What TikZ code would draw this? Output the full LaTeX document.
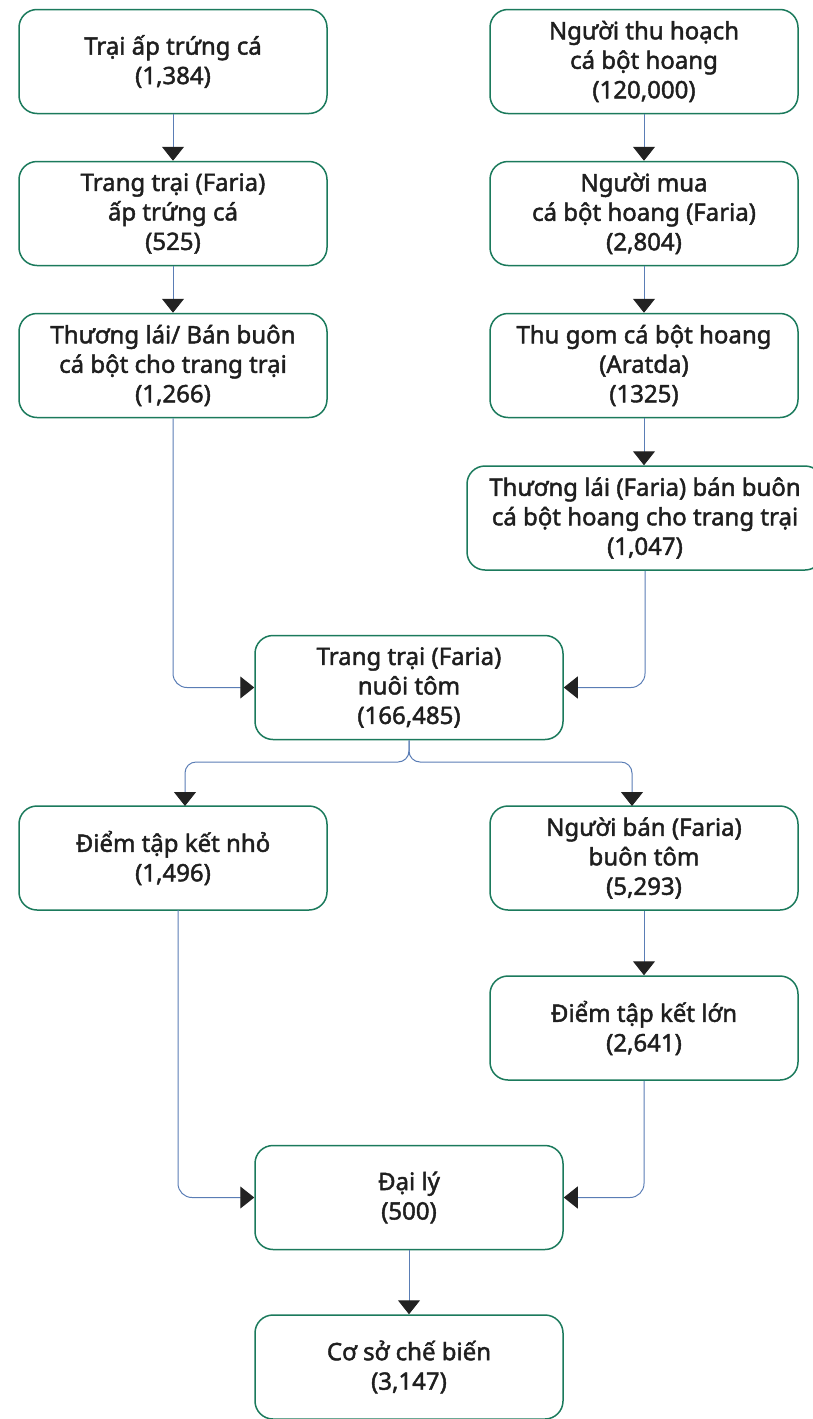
\documentclass[tikz,border=0pt]{standalone}
\usepackage{fontspec}
\setmainfont{Noto Sans}[FakeBold=1.8]
\usetikzlibrary{arrows.meta}
\definecolor{boxgreen}{HTML}{1B7A5C}
\definecolor{lineblue}{HTML}{5A7DB5}
\definecolor{tip}{HTML}{222222}
\tikzset{
  box/.style={draw=boxgreen, line width=1.5pt, rounded corners=18pt, fill=white,
    minimum width=308pt, minimum height=104pt, align=center, inner sep=0pt,
    font=\fontsize{24}{29.5}\selectfont, text=black!88},
  conn/.style={draw=lineblue, line width=1pt, rounded corners=14pt,
    -{Triangle[width=22pt,length=14pt,color=tip]}},
}
\begin{document}
\begin{tikzpicture}[x=1pt,y=-1pt]
\useasboundingbox (0,0) rectangle (813,1419);
% left column
\node[box] (l1) at (173,61.5) {Trại ấp trứng cá\\(1,384)};
\node[box] (l2) at (173,213.5) {Trang trại (Faria)\\ấp trứng cá\\(525)};
\node[box] (l3) at (173,365.5) {Thương lái/ Bán buôn\\cá bột cho trang trại\\(1,266)};
% right column
\node[box] (r1) at (644,61.5) {Người thu hoạch\\cá bột hoang\\(120,000)};
\node[box] (r2) at (644,213.5) {Người mua\\cá bột hoang (Faria)\\(2,804)};
\node[box] (r3) at (644,365.5) {Thu gom cá bột hoang\\(Aratda)\\(1325)};
\node[box, minimum width=356pt] (r4) at (645,518) {Thương lái (Faria) bán buôn\\cá bột hoang cho trang trại\\(1,047)};
% center
\node[box] (c) at (409,687.5) {Trang trại (Faria)\\nuôi tôm\\(166,485)};
\node[box] (sm) at (173,858) {Điểm tập kết nhỏ\\(1,496)};
\node[box] (ws) at (644,858) {Người bán (Faria)\\buôn tôm\\(5,293)};
\node[box] (big) at (644,1028) {Điểm tập kết lớn\\(2,641)};
\node[box] (ag) at (409,1197.5) {Đại lý\\(500)};
\node[box] (pr) at (409,1367) {Cơ sở chế biến\\(3,147)};
% vertical arrows
\draw[conn] (l1) -- (l2);
\draw[conn] (l2) -- (l3);
\draw[conn] (r1) -- (r2);
\draw[conn] (r2) -- (r3);
\draw[conn] (r3.south) -- (r3.south |- r4.north);
\draw[conn] (ws) -- (big);
\draw[conn] (ag) -- (pr);
% merges into center
\draw[conn] (l3.south) -- (l3.south |- c.west) -- (c.west);
\draw[conn] (r4.south) -- (r4.south |- c.east) -- (c.east);
% split
\coordinate (sp) at (409,762);
\coordinate (sl) at (185,806);
\coordinate (sr) at (632,806);
\draw[conn, rounded corners=11pt] (c.south) -- (sp) -- (sp -| sl) -- (sl);
\draw[conn, rounded corners=11pt] (c.south) -- (sp) -- (sp -| sr) -- (sr);
% merges into agent
\coordinate (smb) at (178,910);
\draw[conn] (smb) -- (smb |- ag.west) -- (ag.west);
\draw[conn] (big.south) -- (big.south |- ag.east) -- (ag.east);
\end{tikzpicture}
\end{document}
